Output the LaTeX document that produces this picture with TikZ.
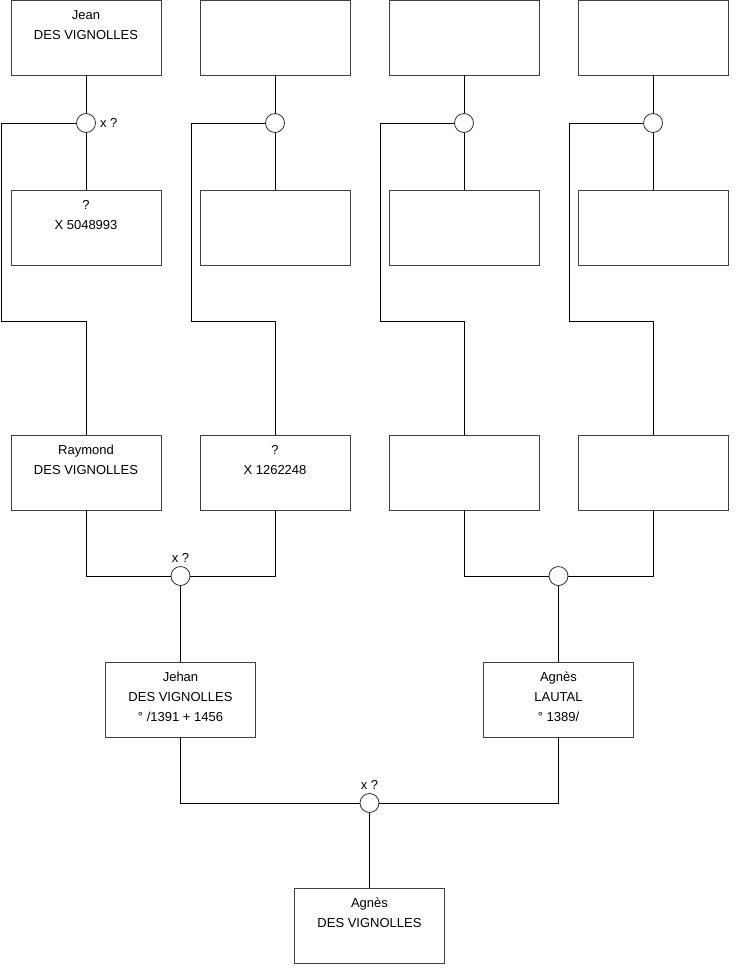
\documentclass[tikz,border=0pt]{standalone}
\usepackage{fontspec}
\setmainfont{Liberation Sans}
\usetikzlibrary{positioning}

\begin{document}
\begin{tikzpicture}[
      x=1pt,y=-1pt,
      every node/.style={font=\fontsize{13}{20}\selectfont},
      person/.style={draw=black!75,line width=0.9pt,minimum width=150pt,minimum height=75pt,inner sep=0pt},
      ptext/.style={anchor=north,align=center,inner sep=0pt,yshift=-10.5pt},
      union/.style={draw=black!80,line width=0.8pt,circle,fill=white,minimum size=19pt,inner sep=0pt},
      link/.style={draw=black,line width=0.8pt},
      wedlbl/.style={inner sep=0pt}
    ]
    \useasboundingbox (0,0) rectangle (740,975);
    % great-grandparents
    \node[person] (t1) at (86,37.5) {};
    \node[person] (t2) at (275,37.5) {};
    \node[person] (t3) at (464,37.5) {};
    \node[person] (t4) at (653,37.5) {};
    \node[ptext] (t1txt) at (t1.north) {Jean\\DES VIGNOLLES};
    % their spouses
    \node[person] (s1) at (86,227.5) {};
    \node[person] (s2) at (275,227.5) {};
    \node[person] (s3) at (464,227.5) {};
    \node[person] (s4) at (653,227.5) {};
    \node[ptext] (s1txt) at (s1.north) {?\\X 5048993};
    % unions of the first generation
    \node[union] (u1) at (86,123) {};
    \node[union] (u2) at (275,123) {};
    \node[union] (u3) at (464,123) {};
    \node[union] (u4) at (653,123) {};
    \node[wedlbl,anchor=west] (u1lbl) at ([xshift=4pt]u1.east) {x ?};
    % grandparents
    \node[person] (r1) at (86,472.5) {};
    \node[person] (r2) at (275,472.5) {};
    \node[person] (r3) at (464,472.5) {};
    \node[person] (r4) at (653,472.5) {};
    \node[ptext] (r1txt) at (r1.north) {Raymond\\DES VIGNOLLES};
    \node[ptext] (r2txt) at (r2.north) {?\\X 1262248};
    % bends of the child lines
    \coordinate (k1) at (1,321);
    \coordinate (k2) at (191,321);
    \coordinate (k3) at (380,321);
    \coordinate (k4) at (569,321);
    % unions of the grandparents
    \node[union] (v1) at (180.5,576) {};
    \node[union] (v2) at (558.5,576) {};
    \node[wedlbl,above=3pt of v1] (v1lbl) {x ?};
    % parents
    \node[person] (jehan) at (180.5,699.5) {};
    \node[person] (agnes) at (558.5,699.5) {};
    \node[ptext] (jehantxt) at (jehan.north) {Jehan\\DES VIGNOLLES\\° /1391 + 1456};
    \node[ptext] (agnestxt) at (agnes.north) {Agnès\\LAUTAL\\° 1389/};
    % parents' union and child
    \node[union] (w) at (369.5,803) {};
    \node[wedlbl,above=3pt of w] (wlbl) {x ?};
    \node[person] (child) at (369.5,925.5) {};
    \node[ptext] (childtxt) at (child.north) {Agnès\\DES VIGNOLLES};
    % first generation links
    \draw[link] (t1) -- (u1);
    \draw[link] (t2) -- (u2);
    \draw[link] (t3) -- (u3);
    \draw[link] (t4) -- (u4);
    \draw[link] (u1) -- (s1);
    \draw[link] (u2) -- (s2);
    \draw[link] (u3) -- (s3);
    \draw[link] (u4) -- (s4);
    \draw[link] (u1.west) -| (k1) -| (r1.north);
    \draw[link] (u2.west) -| (k2) -| (r2.north);
    \draw[link] (u3.west) -| (k3) -| (r3.north);
    \draw[link] (u4.west) -| (k4) -| (r4.north);
    % grandparents links
    \draw[link] (r1.south) |- (v1.west);
    \draw[link] (r2.south) |- (v1.east);
    \draw[link] (r3.south) |- (v2.west);
    \draw[link] (r4.south) |- (v2.east);
    \draw[link] (v1) -- (jehan);
    \draw[link] (v2) -- (agnes);
    % parents links
    \draw[link] (jehan.south) |- (w.west);
    \draw[link] (agnes.south) |- (w.east);
    \draw[link] (w) -- (child);
  \end{tikzpicture}
\end{document}
